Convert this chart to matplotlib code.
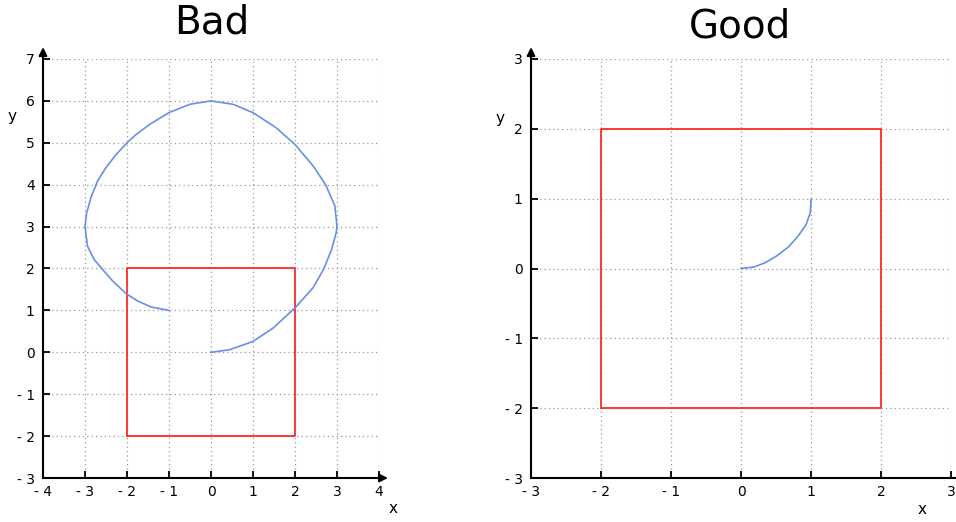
import numpy as np
import matplotlib
matplotlib.use("Agg")
import matplotlib.pyplot as plt

# ---- data ----
bad_x = [0, 0.44, 1.0, 1.48, 2.0, 2.43, 2.69, 2.87, 2.98, 3.0, 2.95, 2.73, 2.43, 2.0, 1.55, 1.0, 0.52, 0,
         -0.5, -1.0, -1.46, -1.78, -2.0, -2.26, -2.5, -2.7, -2.86, -2.96, -3.0, -2.94, -2.78, -2.6,
         -2.34, -2.02, -1.74, -1.42, -1.0]
bad_y = [0, 0.06, 0.26, 0.58, 1.06, 1.54, 2.0, 2.45, 2.85, 3.0, 3.49, 4.0, 4.45, 4.96, 5.36, 5.72, 5.92, 6.0,
         5.92, 5.72, 5.44, 5.2, 5.0, 4.72, 4.41, 4.09, 3.69, 3.33, 3.0, 2.53, 2.21, 2.0,
         1.7, 1.4, 1.22, 1.08, 1.0]
good_x = [0, 0.18, 0.34, 0.51, 0.68, 0.82, 0.93, 0.99, 1.0]
good_y = [0, 0.02, 0.08, 0.18, 0.31, 0.47, 0.63, 0.8, 0.99]
box_x = [-2, 2, 2, -2, -2]
box_y = [-2, -2, 2, 2, -2]

bad_xticks = [-4, -3, -2, -1, 0, 1, 2, 3, 4]
bad_yticks = [-3, -2, -1, 0, 1, 2, 3, 4, 5, 6, 7]
good_ticks = [-3, -2, -1, 0, 1, 2, 3]
titles = ["Bad", "Good"]

BLUE = "#6a8fe6"
RED = "#ff2a2a"

def lab(v):
    return f"- {abs(v)}" if v < 0 else str(v)

fig = plt.figure(figsize=(9.56, 5.22), dpi=100)
ax1 = fig.add_axes([43/956, 44/522, 336/956, 419/522])
ax2 = fig.add_axes([531/956, 44/522, 420/956, 419/522])

def style(ax, xt, yt, xlab_pos, ylab_pos, x_head=True):
    ax.set_xlim(xt[0], xt[-1]); ax.set_ylim(yt[0], yt[-1])
    ax.set_xticks(xt); ax.set_xticklabels([lab(v) for v in xt])
    ax.set_yticks(yt); ax.set_yticklabels([lab(v) for v in yt])
    ax.tick_params(direction='in', length=5, width=1.3, labelsize=10)
    ax.tick_params(axis='x', pad=5)
    ax.tick_params(axis='y', pad=6)
    for s in ['top', 'right']:
        ax.spines[s].set_visible(False)
    for s in ['left', 'bottom']:
        ax.spines[s].set_linewidth(1.5)
    ax.grid(True, ls=(0, (1, 2.5)), color='#999999', lw=0.9)
    ax.set_axisbelow(True)
    ax.annotate('', xy=(0, 1.035), xytext=(0, 0.99), xycoords='axes fraction',
                arrowprops=dict(arrowstyle='-|>', color='k', lw=1.5, mutation_scale=12), annotation_clip=False)
    if x_head:
        ax.annotate('', xy=(1.035, 0), xytext=(0.99, 0), xycoords='axes fraction',
                    arrowprops=dict(arrowstyle='-|>', color='k', lw=1.5, mutation_scale=12), annotation_clip=False)
    else:
        ax.plot([1, 1.05], [0, 0], color='k', lw=1.5, transform=ax.transAxes, clip_on=False)
    ax.text(*xlab_pos, 'x', transform=ax.transAxes, fontsize=11, ha='center', va='center')
    ax.text(*ylab_pos, 'y', transform=ax.transAxes, fontsize=11, ha='center', va='center')

style(ax1, bad_xticks, bad_yticks, (1.042, -0.072), (-0.092, 0.862))
style(ax2, good_ticks, good_ticks, (0.93, -0.076), (-0.074, 0.859), x_head=False)

ax1.plot(box_x, box_y, color=RED, lw=1.3)
ax1.plot(bad_x, bad_y, color=BLUE, lw=1.2, solid_joinstyle='round')
ax2.plot(box_x, box_y, color=RED, lw=1.3)
ax2.plot(good_x, good_y, color=BLUE, lw=1.2, solid_joinstyle='round')

fig.text(212/956, 1 - 23/522, titles[0], fontsize=28, ha='center', va='center')
fig.text(740/956, 1 - 27/522, titles[1], fontsize=28, ha='center', va='center')

fig.savefig('out.png', dpi=100)
